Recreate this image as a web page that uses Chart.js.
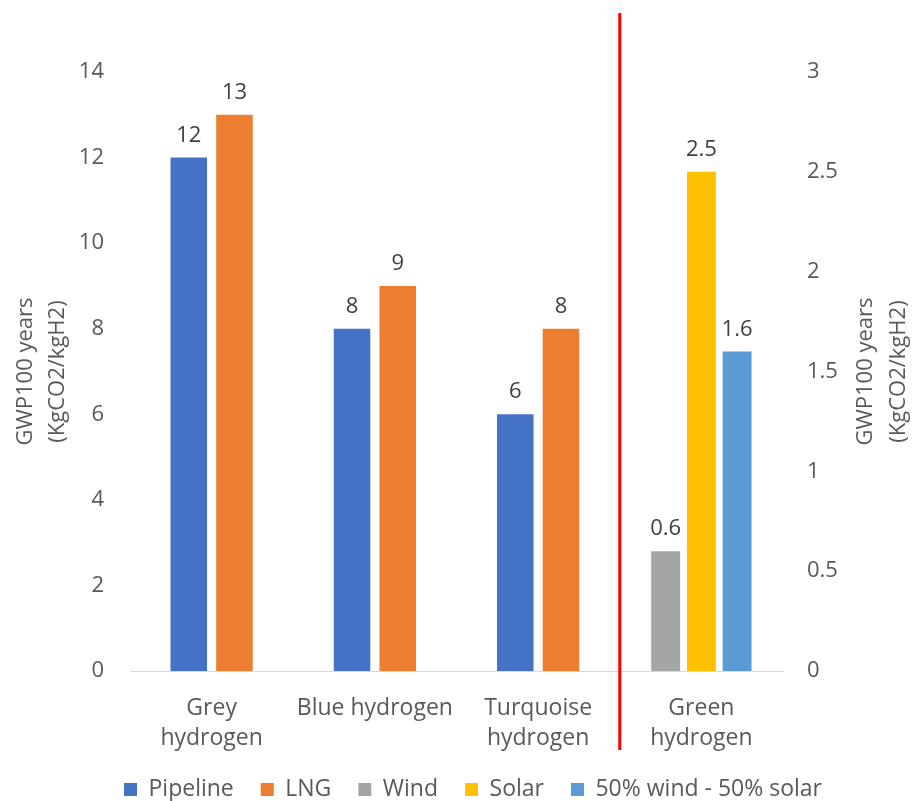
<!DOCTYPE html>
<html>
<head>
<meta charset="utf-8">
<script src="https://cdn.jsdelivr.net/npm/chart.js@4"></script>
<style>
  html, body { margin: 0; padding: 0; background: #ffffff; }
  #wrap { width: 912px; height: 801px; }
</style>
</head>
<body>
<div id="wrap"><canvas id="c" width="912" height="801"></canvas></div>
<script>
// Hydrogen production routes and their GWP100 footprint (kgCO2 per kgH2)
const categories = [["Grey", "hydrogen"], "Blue hydrogen", ["Turquoise", "hydrogen"], ["Green", "hydrogen"]];
const pipeline   = [12, 8, 6, null];
const lng        = [13, 9, 8, null];
const wind       = [null, null, null, 0.6];
const solar      = [null, null, null, 2.5];
const windSolar  = [null, null, null, 1.6];
const leftTicks  = [0, 2, 4, 6, 8, 10, 12, 14];
const rightTicks = [0, 0.5, 1, 1.5, 2, 2.5, 3];
const axisTitle  = ["GWP100 years", "(KgCO2/kgH2)"];

const FONT = "'Open Sans', 'DejaVu Sans', sans-serif";
const GREY_TEXT = "#595959";

// fossil routes sit on the left axis, renewable routes on the right axis
const fossil = { categoryPercentage: 0.56, barPercentage: 0.8, yAxisID: "y", skipNull: true };
const green  = { categoryPercentage: 0.656, barPercentage: 0.81, yAxisID: "y1", skipNull: true };

const datasets = [
  Object.assign({ label: "Pipeline", data: pipeline, backgroundColor: "#4472C4" }, fossil),
  Object.assign({ label: "LNG", data: lng, backgroundColor: "#ED7D31" }, fossil),
  Object.assign({ label: "Wind", data: wind, backgroundColor: "#A5A5A5" }, green),
  Object.assign({ label: "Solar", data: solar, backgroundColor: "#FFC000" }, green),
  Object.assign({ label: "50% wind - 50% solar", data: windSolar, backgroundColor: "#5B9BD5" }, green)
];

// value labels above each bar
const valueLabels = {
  id: "valueLabels",
  afterDatasetsDraw(chart) {
    const ctx = chart.ctx;
    ctx.save();
    ctx.font = "22px " + FONT;
    ctx.fillStyle = "#404040";
    ctx.textAlign = "center";
    ctx.textBaseline = "alphabetic";
    chart.data.datasets.forEach((ds, i) => {
      const meta = chart.getDatasetMeta(i);
      meta.data.forEach((bar, j) => {
        const v = ds.data[j];
        if (v === null || v === undefined) return;
        ctx.fillText(String(v), bar.x, bar.y - 16);
      });
    });
    ctx.restore();
  }
};

// axis titles (both read bottom-to-top) and the divider before the green route
const decorations = {
  id: "decorations",
  afterDraw(chart) {
    const ctx = chart.ctx;
    const area = chart.chartArea;
    const x = chart.scales.x;
    const midY = (area.top + area.bottom) / 2;

    ctx.save();
    ctx.font = "22px " + FONT;
    ctx.fillStyle = GREY_TEXT;
    ctx.textAlign = "center";
    ctx.textBaseline = "middle";
    const drawTitle = (cx, gap) => {
      axisTitle.forEach((line, k) => {
        ctx.save();
        ctx.translate(cx + k * gap, midY);
        ctx.rotate(-Math.PI / 2);
        ctx.fillText(line, 0, 0);
        ctx.restore();
      });
    };
    drawTitle(26, 32);
    drawTitle(866, 33);

    const divX = (x.getPixelForValue(2) + x.getPixelForValue(3)) / 2;
    ctx.strokeStyle = "#FF0000";
    ctx.lineWidth = 3;
    ctx.beginPath();
    ctx.moveTo(divX, 13);
    ctx.lineTo(divX, 750);
    ctx.stroke();
    ctx.restore();
  }
};

// fixed legend box height so the row sits near the bottom edge
const legendHeight = {
  id: "legendHeight",
  beforeInit(chart) {
    const fit = chart.legend.fit;
    chart.legend.fit = function () {
      fit.call(this);
      this.height = 50;
    };
  }
};

new Chart(document.getElementById("c"), {
  type: "bar",
  data: { labels: categories, datasets: datasets },
  plugins: [legendHeight, valueLabels, decorations],
  options: {
    responsive: false,
    animation: false,
    layout: { padding: { left: 34, right: 0, top: 72, bottom: 0 } },
    plugins: {
      legend: {
        position: "bottom",
        labels: {
          boxWidth: 13,
          boxHeight: 13,
          padding: 27,
          color: GREY_TEXT,
          font: { family: FONT, size: 23 }
        }
      },
      tooltip: { enabled: false }
    },
    scales: {
      x: {
        grid: { display: false, drawTicks: false },
        border: { display: true, color: "#D9D9D9", width: 1 },
        ticks: { color: GREY_TEXT, padding: 23, maxRotation: 0, autoSkip: false,
                 font: { family: FONT, size: 23, lineHeight: 1.3 } },
        afterFit(scale) { scale.height = 80; }
      },
      y: {
        position: "left",
        min: leftTicks[0],
        max: leftTicks[leftTicks.length - 1],
        afterBuildTicks(scale) { scale.ticks = leftTicks.map(v => ({ value: v })); },
        grid: { display: false, drawTicks: false },
        border: { display: false },
        ticks: { color: GREY_TEXT, padding: 26, font: { family: FONT, size: 22 },
                 callback: v => String(v) },
        afterFit(scale) { scale.width = 96; }
      },
      y1: {
        position: "right",
        min: rightTicks[0],
        max: rightTicks[rightTicks.length - 1],
        afterBuildTicks(scale) { scale.ticks = rightTicks.map(v => ({ value: v })); },
        grid: { display: false, drawTicks: false },
        border: { display: false },
        ticks: { color: GREY_TEXT, padding: 24, font: { family: FONT, size: 22 },
                 callback: v => String(v) },
        afterFit(scale) { scale.width = 129; }
      }
    }
  }
});
</script>
</body>
</html>
